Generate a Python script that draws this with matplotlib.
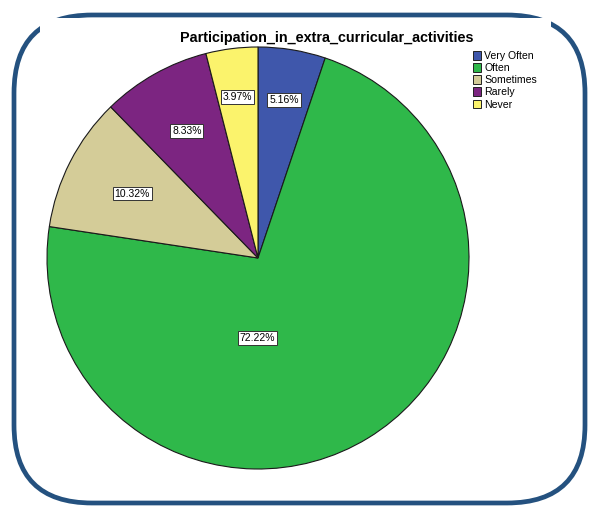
import numpy as np
import matplotlib
matplotlib.use('Agg')
import matplotlib.pyplot as plt
from matplotlib.patches import FancyBboxPatch, Rectangle, Patch

plt.rcParams['font.family'] = ['Liberation Sans', 'DejaVu Sans']

# data
categories = ['Very Often', 'Often', 'Sometimes', 'Rarely', 'Never']
percent = [5.16, 72.22, 10.32, 8.33, 3.97]
colors = ['#3f57ab', '#2fb84a', '#d4cc98', '#7c2581', '#fbf36c']
title = 'Participation_in_extra_curricular_activities'

W, H = 593, 507
fig = plt.figure(figsize=(W/100, H/100), dpi=100)

# background layer: rounded frame, partly hidden by the white chart area
bg = fig.add_axes([0, 0, 1, 1])
bg.set_xlim(0, W)
bg.set_ylim(H, 0)
bg.axis('off')
frame = FancyBboxPatch((14, 15), 571, 488, boxstyle='round,pad=0,rounding_size=78',
                       fc='white', ec='#24517f', lw=3.4)
bg.add_patch(frame)
bg.add_patch(Rectangle((40, 17.5), 511, 460, fc='white', ec='none', zorder=3))

# pie
ax = fig.add_axes([47/W, 1-469/H, 422/W, 422/H])
ax.patch.set_alpha(0)
wedges, _ = ax.pie(percent, colors=colors, startangle=90, counterclock=False, radius=1,
                   wedgeprops=dict(edgecolor='#1a1a1a', linewidth=0.8))
ax.set_xlim(-1, 1)
ax.set_ylim(-1, 1)
ax.set_aspect('equal')

# label placement (radial fraction, angle override for the big slice)
label_r = [0.76, 0.38, 0.67, 0.69, 0.77]
cum = np.cumsum([0] + percent)
for i, p in enumerate(percent):
    mid = 90 - 360*(cum[i] + p/2)/100
    if i == 1:
        mid = -90.5
    a = np.radians(mid)
    ax.text(label_r[i]*np.cos(a), label_r[i]*np.sin(a), '{:.2f}%'.format(p),
            ha='center', va='center', fontsize=7.5,
            bbox=dict(boxstyle='square,pad=0.18', fc='white', ec='#333333', lw=0.7))

fig.text(326.5/W, 1-38/H, title, ha='center', va='center', fontsize=10.4, fontweight='bold')

handles = [Patch(fc=c, ec='#222222', lw=0.7) for c in colors]
fig.legend(handles, categories, loc='upper left', bbox_to_anchor=(473/W, 1-51/H),
           frameon=False, fontsize=7.6, handlelength=0.8, handleheight=0.9,
           handletextpad=0.25, labelspacing=0.2, borderpad=0, borderaxespad=0)

fig.savefig('out.png', dpi=100)
